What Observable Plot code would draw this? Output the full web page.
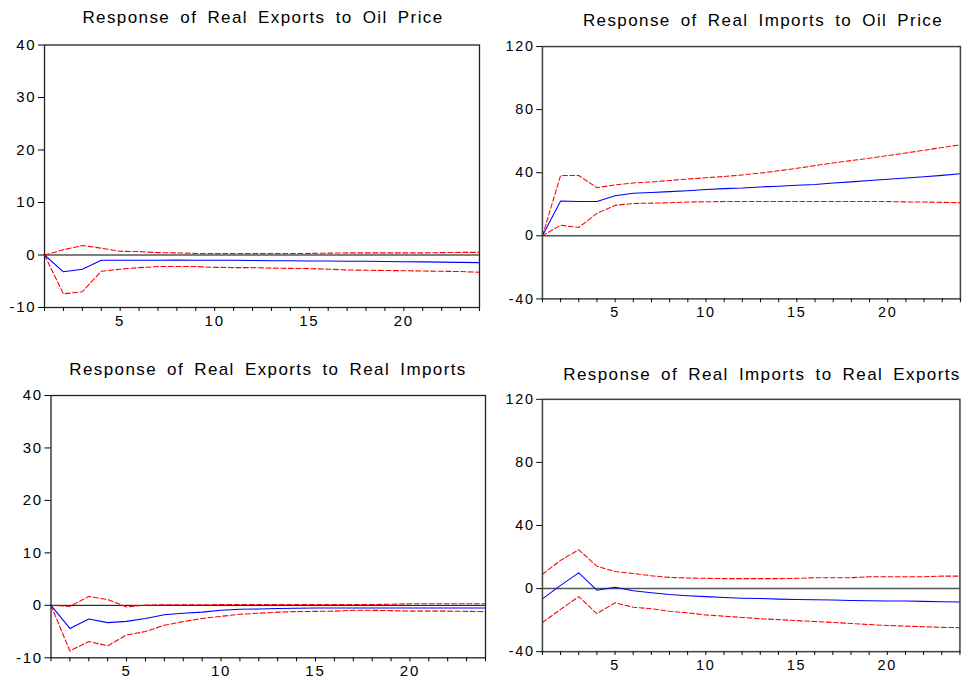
<!DOCTYPE html>
<html><head><meta charset="utf-8">
<script src="https://cdn.jsdelivr.net/npm/d3@7"></script>
<script src="https://cdn.jsdelivr.net/npm/@observablehq/plot@0.6"></script>
<style>
html,body{margin:0;padding:0;background:#fff;overflow:hidden;width:971px;height:685px;}
#root{position:relative;width:971px;height:685px;overflow:hidden;background:#fff;}
.title{position:absolute;font-family:"Liberation Sans",Arial,sans-serif;font-size:17px;line-height:17px;letter-spacing:1.4px;word-spacing:4px;color:#000;white-space:nowrap;text-align:center;}
.panel{position:absolute;}
.panel svg text{letter-spacing:1.8px;font-size:15px !important;font-family:"Liberation Sans",Arial,sans-serif !important;fill:#000;}
</style></head><body><div id="root"></div>
<script>
// Periods (horizon)
const periods = d3.range(1, 25);

// Response of Real Exports to Oil Price
const exOilResp  = [0, -3.2, -2.7, -1.0, -1.0, -1.0, -1.0, -0.95, -1.0, -1.0, -1.0, -1.05, -1.1, -1.1, -1.15, -1.15, -1.2, -1.2, -1.25, -1.3, -1.3, -1.35, -1.4, -1.45];
const exOilUpper = [0, 1.0, 1.8, 1.3, 0.7, 0.65, 0.45, 0.4, 0.3, 0.3, 0.3, 0.3, 0.3, 0.3, 0.3, 0.35, 0.4, 0.4, 0.4, 0.4, 0.4, 0.45, 0.5, 0.5];
const exOilLower = [0, -7.4, -7.0, -3.1, -2.7, -2.4, -2.2, -2.2, -2.2, -2.35, -2.4, -2.4, -2.5, -2.55, -2.6, -2.7, -2.85, -2.9, -2.95, -3.0, -3.05, -3.1, -3.15, -3.3];

// Response of Real Imports to Oil Price
const imOilResp  = [0, 22.1, 21.7, 21.7, 25.4, 27.0, 27.4, 28.0, 28.6, 29.3, 29.9, 30.3, 31.0, 31.4, 32.0, 32.5, 33.5, 34.2, 35.0, 35.8, 36.6, 37.4, 38.3, 39.3];
const imOilUpper = [0, 38.2, 38.2, 30.5, 32.3, 33.5, 34.1, 35.1, 36.0, 36.8, 37.6, 38.6, 39.8, 41.2, 42.8, 44.5, 46.2, 47.7, 49.2, 50.8, 52.5, 54.2, 56.0, 57.7];
const imOilLower = [0, 6.7, 5.3, 14.2, 19.3, 20.5, 20.7, 21.0, 21.4, 21.6, 21.7, 21.8, 21.8, 21.8, 21.8, 21.8, 21.8, 21.8, 21.8, 21.7, 21.5, 21.4, 21.2, 21.0];

// Response of Real Exports to Real Imports
const exImResp  = [0, -4.4, -2.6, -3.3, -3.05, -2.5, -1.8, -1.5, -1.3, -0.95, -0.75, -0.7, -0.6, -0.55, -0.5, -0.5, -0.5, -0.5, -0.5, -0.5, -0.5, -0.5, -0.5, -0.5];
const exImUpper = [0, -0.2, 1.7, 1.1, -0.3, 0.05, 0.1, 0.1, 0.1, 0.15, 0.15, 0.15, 0.15, 0.15, 0.15, 0.15, 0.15, 0.15, 0.2, 0.3, 0.3, 0.3, 0.3, 0.3];
const exImLower = [0, -8.7, -6.9, -7.7, -5.65, -5.0, -3.8, -3.1, -2.5, -2.1, -1.7, -1.5, -1.3, -1.2, -1.15, -1.1, -0.95, -0.95, -1.0, -1.1, -1.1, -1.1, -1.15, -1.2];

// Response of Real Imports to Real Exports
const imExResp  = [-6.5, 2.0, 10.0, -1.0, 0.8, -1.4, -2.6, -3.7, -4.5, -5.1, -5.7, -6.1, -6.3, -6.7, -6.9, -7.1, -7.3, -7.5, -7.7, -7.9, -7.9, -8.1, -8.3, -8.5];
const imExUpper = [9.1, 17.9, 24.6, 14.2, 10.8, 9.6, 8.1, 7.1, 6.7, 6.5, 6.3, 6.3, 6.3, 6.3, 6.5, 6.9, 6.9, 6.9, 7.5, 7.5, 7.5, 7.5, 7.9, 7.9];
const imExLower = [-21.5, -13.2, -5.1, -15.9, -9.0, -11.8, -12.8, -14.4, -15.4, -16.7, -17.5, -18.3, -19.1, -19.7, -20.3, -20.9, -21.5, -22.1, -22.8, -23.4, -23.8, -24.2, -24.6, -24.8];

// Axis ticks
const exTicks = [-10, 0, 10, 20, 30, 40];
const imTicks = [-40, 0, 40, 80, 120];

// Titles
const titles = [
  "Response of Real Exports to Oil Price",
  "Response of Real Imports to Oil Price",
  "Response of Real Exports to Real Imports",
  "Response of Real Imports to Real Exports"
];

const root = document.getElementById("root");

function toRows(vals) { return periods.map((p, i) => ({p, v: vals[i]})); }

function makePanel(cfg) {
  const chart = Plot.plot({
    width: cfg.width, height: cfg.height,
    marginTop: cfg.mt, marginRight: cfg.mr, marginBottom: cfg.mb, marginLeft: cfg.ml,
    style: {fontFamily: "'Liberation Sans', Arial, sans-serif", fontSize: "15px", color: "#000", background: "transparent", overflow: "visible"},
    x: {domain: [1, 24]},
    y: {domain: cfg.yDomain},
    marks: [
      Plot.ruleY([0], {stroke: cfg.zeroColor, strokeWidth: cfg.zeroWidth}),
      Plot.line(toRows(cfg.upper), {x: "p", y: "v", stroke: "#ff0000", strokeWidth: 1.1, strokeDasharray: "5,2.5"}),
      Plot.line(toRows(cfg.lower), {x: "p", y: "v", stroke: "#ff0000", strokeWidth: 1.1, strokeDasharray: "5,2.5"}),
      Plot.line(toRows(cfg.resp), {x: "p", y: "v", stroke: "#0000ff", strokeWidth: 1.1}),
      Plot.frame({stroke: cfg.frameColor, strokeWidth: cfg.frameWidth}),
      Plot.axisY({ticks: cfg.yTicks, tickSize: 6, tickPadding: 2, tickFormat: d => String(d), label: null, stroke: "#000", fontSize: 15, fill: "#000"}),
      Plot.axisX({ticks: periods, tickSize: 4, tickPadding: 4, tickFormat: d => d % 5 === 0 ? String(d) : "", label: null, stroke: "#000", fontSize: 15, fill: "#000"})
    ]
  });
  const div = document.createElement("div");
  div.className = "panel";
  div.style.left = cfg.left + "px";
  div.style.top = cfg.top + "px";
  div.appendChild(chart);
  root.appendChild(div);

  const t = document.createElement("div");
  t.className = "title";
  t.textContent = cfg.title;
  t.style.left = (cfg.titleCenter - 250) + "px";
  t.style.width = "500px";
  t.style.top = cfg.titleTop + "px";
  root.appendChild(t);
}

makePanel({title: titles[0], titleCenter: 263, titleTop: 9,
  left: 0, top: 30, width: 490, height: 305, mt: 14.5, mr: 11, mb: 28, ml: 44,
  yDomain: [-10, 40], yTicks: exTicks, resp: exOilResp, upper: exOilUpper, lower: exOilLower,
  zeroColor: "#000", zeroWidth: 1, frameColor: "#222", frameWidth: 1.3});

makePanel({title: titles[1], titleCenter: 763, titleTop: 12,
  left: 490, top: 30, width: 500, height: 305, mt: 16.7, mr: 11.5, mb: 26, ml: 54,
  yDomain: [-40, 120], yTicks: imTicks, resp: imOilResp, upper: imOilUpper, lower: imOilLower,
  zeroColor: "#555", zeroWidth: 1.6, frameColor: "#444", frameWidth: 1.6});

makePanel({title: titles[2], titleCenter: 268, titleTop: 361,
  left: 0, top: 370, width: 495, height: 315, mt: 25, mr: 10, mb: 27.7, ml: 50.5,
  yDomain: [-10, 40], yTicks: exTicks, resp: exImResp, upper: exImUpper, lower: exImLower,
  zeroColor: "#000", zeroWidth: 1, frameColor: "#222", frameWidth: 1.3});

makePanel({title: titles[3], titleCenter: 762, titleTop: 365.5,
  left: 490, top: 370, width: 500, height: 315, mt: 30, mr: 12, mb: 22.7, ml: 54,
  yDomain: [-40, 120], yTicks: imTicks, resp: imExResp, upper: imExUpper, lower: imExLower,
  zeroColor: "#555", zeroWidth: 1.6, frameColor: "#444", frameWidth: 1.6});
</script>
</body></html>
